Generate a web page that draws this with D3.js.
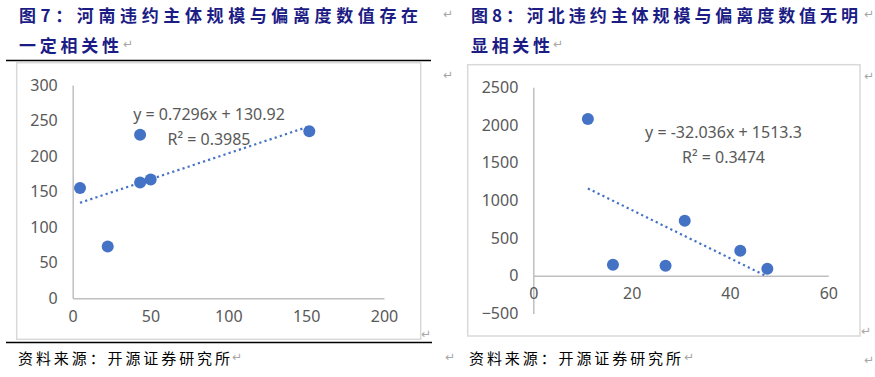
<!DOCTYPE html>
<html>
<head>
<meta charset="utf-8">
<script src="https://cdn.jsdelivr.net/npm/d3@7"></script>
<style>
  body { margin: 0; background: #fff; }
  svg { display: block; }
</style>
</head>
<body>
<script>
// Henan: scale vs deviation
const henanX = [4.7, 22.5, 43.3, 43.3, 50.1, 152];
const henanY = [155, 73, 230, 163, 167, 235];
const henanXTicks = [0, 50, 100, 150, 200];
const henanYTicks = [0, 50, 100, 150, 200, 250, 300];
const henanFit = { slope: 0.7296, intercept: 130.92, eq: "y = 0.7296x + 130.92", r2: "R² = 0.3985" };

// Hebei
const hebeiX = [11.1, 16.2, 26.9, 30.8, 42.1, 47.6];
const hebeiY = [2080, 146, 133, 730, 332, 93];
const hebeiXTicks = [0, 20, 40, 60];
const hebeiYTicks = [-500, 0, 500, 1000, 1500, 2000, 2500];
const hebeiFit = { slope: -32.036, intercept: 1513.3, eq: "y = -32.036x + 1513.3", r2: "R² = 0.3474" };

const W = 875, H = 377;
const dotColor = "#4472c4", axisColor = "#bfbfbf", labelColor = "#595959";
const titleColor = "#1c1c85", markColor = "#a6a6a6";

const svg = d3.select("body").append("svg")
    .attr("width", W)
    .attr("height", H);

// page rules
svg.append("line").attr("x1", 6).attr("x2", 431).attr("y1", 60.5).attr("y2", 60.5)
    .attr("stroke", "#000").attr("stroke-width", 1.3);
svg.append("line").attr("x1", 6).attr("x2", 432).attr("y1", 342.5).attr("y2", 342.5)
    .attr("stroke", "#000").attr("stroke-width", 1.3);

// titles
function title(x, y, txt, len) {
    svg.append("text")
        .attr("x", x).attr("y", y)
        .attr("textLength", len).attr("lengthAdjust", "spacing")
        .style("font-family", "'Noto Sans CJK SC', sans-serif")
        .style("font-weight", "bold")
        .style("font-size", "17px")
        .attr("fill", titleColor)
        .attr("dominant-baseline", "central")
        .text(txt);
}
title(19, 14, "图7：河南违约主体规模与偏离度数值存在", 399);
title(19, 44, "一定相关性", 100);
title(471, 14, "图8：河北违约主体规模与偏离度数值无明", 387);
title(471, 44, "显相关性", 79);

// source lines
function source(x, txt) {
    svg.append("text")
        .attr("x", x).attr("y", 357)
        .attr("textLength", 212).attr("lengthAdjust", "spacing")
        .style("font-family", "'Noto Sans CJK SC', sans-serif")
        .style("font-size", "15px")
        .attr("fill", "#000")
        .attr("dominant-baseline", "central")
        .text(txt);
}
source(18, "资料来源：开源证券研究所");
source(469, "资料来源：开源证券研究所");

// paragraph marks
const marks = [[123, 44], [553, 44], [443, 14], [443, 75], [232, 357], [684, 357], [445, 357],
    [421, 334], [861, 331], [864, 14], [864, 76], [864, 360]];
marks.forEach(m => {
    svg.append("text").attr("x", m[0]).attr("y", m[1])
        .attr("dominant-baseline", "central")
        .style("font-family", "'DejaVu Sans', sans-serif")
        .style("font-size", "12px")
        .attr("fill", markColor)
        .text("↵");
});

function scatter(cfg) {
    const { frame, xs, ys, xTicks, yTicks, fit, x, y, eqPos } = cfg;

    svg.append("rect")
        .attr("x", frame[0]).attr("y", frame[1])
        .attr("width", frame[2] - frame[0]).attr("height", frame[3] - frame[1])
        .attr("fill", "#fff").attr("stroke", "#d9d9d9").attr("stroke-width", 1.5);

    const g = svg.append("g");

    const yAxis = g.append("g")
        .attr("transform", `translate(${x(0)},0)`)
        .call(d3.axisLeft(y).tickValues(yTicks).tickFormat(d3.format("d")).tickSize(0).tickPadding(15));
    const xAxis = g.append("g")
        .attr("transform", `translate(0,${y(0)})`)
        .call(d3.axisBottom(x).tickValues(xTicks).tickFormat(d3.format("d")).tickSize(0).tickPadding(12));

    [xAxis, yAxis].forEach(a => {
        a.select(".domain").attr("stroke", axisColor).attr("stroke-width", 1.5);
        a.selectAll("text")
            .style("font-family", "'Noto Sans', sans-serif")
            .style("font-size", "16px")
            .attr("fill", labelColor);
    });

    // trendline over data range
    const x0 = d3.min(xs), x1 = d3.max(xs);
    g.append("line")
        .attr("x1", x(x0)).attr("y1", y(fit.slope * x0 + fit.intercept))
        .attr("x2", x(x1)).attr("y2", y(fit.slope * x1 + fit.intercept))
        .attr("stroke", dotColor).attr("stroke-width", 2.2)
        .attr("stroke-dasharray", "2.2,3.2");

    g.selectAll("circle")
        .data(xs.map((d, i) => [d, ys[i]]))
        .join("circle")
        .attr("cx", d => x(d[0]))
        .attr("cy", d => y(d[1]))
        .attr("r", 6)
        .attr("fill", dotColor);

    [fit.eq, fit.r2].forEach((t, i) => {
        g.append("text")
            .attr("x", eqPos[0]).attr("y", eqPos[1] + i * 25)
            .attr("text-anchor", "middle")
            .attr("dominant-baseline", "central")
            .style("font-family", "'Noto Sans', sans-serif")
            .style("font-size", "16px")
            .attr("fill", labelColor)
            .text(t);
    });
}

scatter({
    frame: [16.7, 62.7, 420.7, 339.3],
    xs: henanX, ys: henanY, xTicks: henanXTicks, yTicks: henanYTicks, fit: henanFit,
    x: d3.scaleLinear().domain([0, 200]).range([72.7, 384]),
    y: d3.scaleLinear().domain([0, 300]).range([298.3, 85]),
    eqPos: [209, 114]
});

scatter({
    frame: [467.7, 64.7, 860, 336],
    xs: hebeiX, ys: hebeiY, xTicks: hebeiXTicks, yTicks: hebeiYTicks, fit: hebeiFit,
    x: d3.scaleLinear().domain([0, 60]).range([533.3, 828.3]),
    y: d3.scaleLinear().domain([-500, 2500]).range([313.4, 87.3]),
    eqPos: [723.5, 132.3]
});
</script>
</body>
</html>
